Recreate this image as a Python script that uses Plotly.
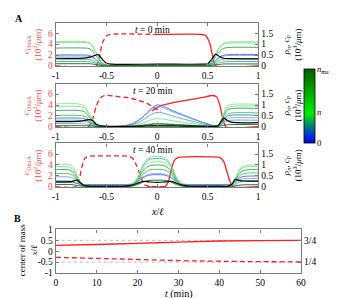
import plotly.graph_objects as go

W, H = 337, 298
FONT = "Liberation Serif"

# ---------------- Panel A data (rho_n, c_P in 10^3/um ; c_DnaA in 10^2/um) -------------
x_t0 = [-1, -0.72, -0.66, -0.62, -0.58, -0.54, -0.5, -0.45, 0, 0.45, 0.5, 0.54, 0.58, 0.62, 0.66, 0.72, 1]
rho_t0 = [
    [0.50, 0.50, 0.48, 0.35, 0.20, 0.06, 0.02, 0.01, 0.01, 0.01, 0.03, 0.10, 0.26, 0.42, 0.49, 0.52, 0.52],  # n=0 blue
    [0.45, 0.45, 0.43, 0.32, 0.18, 0.05, 0.02, 0.01, 0.01, 0.01, 0.02, 0.10, 0.24, 0.38, 0.46, 0.48, 0.48],
    [0.20, 0.20, 0.19, 0.14, 0.08, 0.03, 0.01, 0.01, 0.01, 0.01, 0.01, 0.04, 0.10, 0.16, 0.19, 0.20, 0.20],
    [1.07, 1.07, 1.02, 0.75, 0.43, 0.13, 0.03, 0.01, 0.01, 0.01, 0.05, 0.21, 0.53, 0.84, 1.00, 1.05, 1.05],
    [1.12, 1.12, 1.06, 0.78, 0.45, 0.13, 0.03, 0.01, 0.01, 0.01, 0.06, 0.22, 0.55, 0.88, 1.05, 1.10, 1.10],
    [0.30, 0.30, 0.29, 0.21, 0.12, 0.04, 0.01, 0.01, 0.01, 0.01, 0.02, 0.07, 0.17, 0.26, 0.31, 0.33, 0.33],
    [0.82, 0.82, 0.78, 0.57, 0.33, 0.10, 0.03, 0.01, 0.01, 0.01, 0.04, 0.17, 0.43, 0.68, 0.81, 0.85, 0.85],
    [0.10, 0.10, 0.10, 0.07, 0.04, 0.01, 0.01, 0.01, 0.01, 0.01, 0.01, 0.02, 0.05, 0.07, 0.09, 0.09, 0.09],  # n_max
]
cP_t0 = [0.35, 0.36, 0.40, 0.47, 0.52, 0.30, 0.12, 0.08, 0.08, 0.08, 0.10, 0.30, 0.54, 0.42, 0.35, 0.33, 0.32]
dnaA_dash_x_t0 = [-1, -0.6, -0.57, -0.54, -0.5, -0.46, 0]
dnaA_dash_y_t0 = [0, 0, 1.5, 4.2, 5.5, 5.8, 5.8]
dnaA_solid_x_t0 = [0, 0.44, 0.48, 0.52, 0.55, 0.58, 1]
dnaA_solid_y_t0 = [5.8, 5.8, 5.6, 4.2, 1.8, 0, 0]

x_t20 = [-1, -0.78, -0.72, -0.68, -0.64, -0.6, -0.55, -0.45, -0.35, -0.25, -0.15, -0.05, 0, 0.05,
         0.15, 0.25, 0.35, 0.45, 0.55, 0.6, 0.63, 0.66, 0.69, 0.73, 1]
rho_t20 = [
    [0.40, 0.40, 0.37, 0.26, 0.14, 0.05, 0.02, 0.01, 0.03, 0.13, 0.42, 0.87, 1.00, 0.97, 0.75, 0.56, 0.38, 0.21, 0.07, 0.04, 0.14, 0.33, 0.48, 0.53, 0.53],
    [0.15, 0.15, 0.14, 0.10, 0.06, 0.025, 0.01, 0.01, 0.03, 0.12, 0.39, 0.80, 0.92, 0.90, 0.69, 0.52, 0.35, 0.19, 0.06, 0.03, 0.11, 0.26, 0.37, 0.41, 0.41],
    [0.30, 0.30, 0.28, 0.20, 0.11, 0.04, 0.02, 0.01, 0.02, 0.09, 0.28, 0.58, 0.66, 0.64, 0.50, 0.37, 0.25, 0.14, 0.05, 0.03, 0.08, 0.19, 0.27, 0.30, 0.30],
    [0.93, 0.93, 0.86, 0.61, 0.33, 0.10, 0.03, 0.01, 0.02, 0.05, 0.16, 0.33, 0.37, 0.36, 0.28, 0.21, 0.15, 0.08, 0.03, 0.03, 0.25, 0.57, 0.84, 0.93, 0.94],
    [1.05, 1.05, 0.97, 0.69, 0.38, 0.115, 0.03, 0.01, 0.01, 0.02, 0.03, 0.06, 0.07, 0.07, 0.05, 0.04, 0.03, 0.02, 0.01, 0.03, 0.27, 0.63, 0.92, 1.02, 1.03],
    [0.52, 0.52, 0.49, 0.35, 0.19, 0.06, 0.02, 0.01, 0.01, 0.03, 0.07, 0.14, 0.16, 0.15, 0.12, 0.09, 0.07, 0.04, 0.02, 0.02, 0.17, 0.39, 0.57, 0.63, 0.64],
    [0.75, 0.75, 0.70, 0.50, 0.27, 0.085, 0.025, 0.01, 0.01, 0.01, 0.02, 0.04, 0.05, 0.05, 0.04, 0.03, 0.02, 0.02, 0.01, 0.03, 0.22, 0.51, 0.75, 0.83, 0.84],
    [0.05, 0.05, 0.05, 0.04, 0.03, 0.015, 0.01, 0.01, 0.01, 0.02, 0.06, 0.11, 0.13, 0.12, 0.10, 0.08, 0.05, 0.03, 0.02, 0.01, 0.035, 0.07, 0.09, 0.10, 0.10],
]
cP_t20 = [0.24, 0.25, 0.28, 0.33, 0.30, 0.12, 0.04, 0.02, 0.02, 0.02, 0.03, 0.04, 0.04, 0.04, 0.04, 0.03, 0.03, 0.02, 0.02, 0.05, 0.22, 0.40, 0.30, 0.21, 0.19]
dnaA_dash_x_t20 = [-1, -0.68, -0.64, -0.6, -0.56, -0.52, -0.4, -0.25, -0.1, 0, 0.04]
dnaA_dash_y_t20 = [0, 0, 1.2, 3.8, 5.3, 5.75, 5.6, 5.2, 4.3, 3.2, 2.9]
dnaA_solid_x_t20 = [-0.05, 0, 0.04, 0.15, 0.3, 0.45, 0.55, 0.59, 0.62, 0.65, 0.68, 1]
dnaA_solid_y_t20 = [2.9, 3.5, 3.9, 4.4, 4.9, 5.4, 5.75, 5.5, 4.0, 1.5, 0, 0]

x_t40 = [-1, -0.86, -0.82, -0.79, -0.76, -0.73, -0.69, -0.6, -0.45, -0.3, -0.24, -0.19, -0.14, -0.08, 0,
         0.08, 0.14, 0.19, 0.24, 0.3, 0.45, 0.6, 0.7, 0.74, 0.77, 0.8, 0.83, 0.88, 1]
rho_t40 = [
    [0.20, 0.20, 0.18, 0.15, 0.12, 0.10, 0.10, 0.10, 0.10, 0.10, 0.13, 0.23, 0.41, 0.53, 0.55, 0.53, 0.41, 0.23, 0.13, 0.10, 0.10, 0.10, 0.10, 0.12, 0.22, 0.35, 0.44, 0.48, 0.49],
    [0.45, 0.44, 0.37, 0.26, 0.16, 0.10, 0.08, 0.08, 0.08, 0.08, 0.12, 0.24, 0.44, 0.57, 0.60, 0.57, 0.44, 0.24, 0.12, 0.08, 0.08, 0.08, 0.08, 0.10, 0.18, 0.27, 0.34, 0.37, 0.38],
    [0.27, 0.26, 0.22, 0.15, 0.08, 0.04, 0.03, 0.03, 0.03, 0.03, 0.13, 0.41, 0.92, 1.24, 1.30, 1.24, 0.92, 0.41, 0.13, 0.03, 0.03, 0.03, 0.03, 0.05, 0.11, 0.18, 0.23, 0.26, 0.26],
    [0.92, 0.89, 0.74, 0.47, 0.21, 0.08, 0.03, 0.02, 0.02, 0.02, 0.13, 0.44, 0.99, 1.33, 1.40, 1.33, 0.99, 0.44, 0.13, 0.02, 0.02, 0.02, 0.02, 0.11, 0.34, 0.61, 0.82, 0.91, 0.93],
    [1.03, 1.00, 0.83, 0.52, 0.23, 0.08, 0.03, 0.01, 0.01, 0.01, 0.10, 0.36, 0.81, 1.09, 1.15, 1.09, 0.81, 0.36, 0.10, 0.01, 0.01, 0.01, 0.01, 0.11, 0.36, 0.65, 0.88, 0.98, 1.00],
    [0.60, 0.58, 0.48, 0.30, 0.14, 0.05, 0.02, 0.01, 0.01, 0.01, 0.07, 0.25, 0.57, 0.76, 0.80, 0.76, 0.57, 0.25, 0.07, 0.01, 0.01, 0.01, 0.01, 0.07, 0.23, 0.42, 0.56, 0.62, 0.63],
    [0.78, 0.76, 0.62, 0.39, 0.18, 0.06, 0.02, 0.01, 0.01, 0.01, 0.09, 0.31, 0.71, 0.95, 1.00, 0.95, 0.71, 0.31, 0.09, 0.01, 0.01, 0.01, 0.01, 0.09, 0.28, 0.51, 0.69, 0.77, 0.78],
    [0.10, 0.10, 0.08, 0.05, 0.03, 0.02, 0.01, 0.01, 0.01, 0.01, 0.03, 0.10, 0.21, 0.29, 0.30, 0.29, 0.21, 0.10, 0.03, 0.01, 0.01, 0.01, 0.01, 0.02, 0.04, 0.06, 0.08, 0.09, 0.09],
]
cP_t40 = [0.22, 0.23, 0.27, 0.30, 0.20, 0.08, 0.04, 0.03, 0.03, 0.04, 0.08, 0.16, 0.24, 0.22, 0.20, 0.22, 0.24, 0.16, 0.08, 0.04, 0.03, 0.03, 0.03, 0.12, 0.33, 0.30, 0.27, 0.26, 0.26]
dnaA_dash_x_t40 = [-1, -0.8, -0.77, -0.74, -0.71, -0.67, -0.4, -0.28, -0.24, -0.2, -0.16, -0.12, 0.1]
dnaA_dash_y_t40 = [0, 0, 1.2, 3.8, 5.3, 5.6, 5.65, 5.6, 5.2, 3.8, 1.8, 0.3, 0]
dnaA_solid_x_t40 = [-0.1, 0.08, 0.11, 0.14, 0.17, 0.21, 0.3, 0.5, 0.62, 0.66, 0.69, 0.72, 0.75, 1]
dnaA_solid_y_t40 = [0, 0, 0.8, 3.0, 4.8, 5.4, 5.5, 5.5, 5.4, 4.6, 2.8, 1.0, 0, 0]

time_labels = ["0", "20", "40"]

# ---------------- Panel B data -------------
t_min = [0, 10, 20, 30, 40, 50, 60]
com_solid = [0.27, 0.31, 0.36, 0.42, 0.47, 0.49, 0.50]
com_dashed = [-0.28, -0.33, -0.38, -0.43, -0.46, -0.48, -0.49]
quarter_lines = [0.5, -0.5]
quarter_labels = ["3/4", "1/4"]

x_ticks = [-1, -0.5, 0, 0.5, 1]
x_ticktext = ["-1", "-0.5", "0", "0.5", "1"]
left_ticks = [0, 2, 4, 6]
right_ticks = [0, 0.5, 1, 1.5]
right_ticktext = ["0", "0.5", "1", "1.5"]
t_ticks = [0, 10, 20, 30, 40, 50, 60]
com_ticks = [-1, -0.5, 0, 0.5, 1]
com_ticktext = ["-1", "-0.5", "0", "0.5", "1"]
cbar_tickvals = [0, 0.42, 1]
cbar_ticktext = ["0", "<i>n</i>", "<i>n</i><sub>max</sub>"]

# ---------------- styling -------------
rho_colors = ["rgba(60,100,230,0.85)", "rgba(120,150,235,0.85)", "rgba(60,170,160,0.85)",
              "rgba(120,215,150,0.85)", "rgba(120,235,110,0.85)", "rgba(50,200,70,0.85)",
              "rgba(35,160,75,0.85)", "rgba(15,105,25,0.9)"]
RED = "rgb(255,30,30)"
RED_TXT = "rgb(255,70,70)"
AX = "#7a7a7a"

def pxx(p):
    return p / W

def pxy(p):
    return 1 - p / H

fig = go.Figure()

panels = [
    (x_t0, rho_t0, cP_t0, dnaA_dash_x_t0, dnaA_dash_y_t0, dnaA_solid_x_t0, dnaA_solid_y_t0, 10, 55),
    (x_t20, rho_t20, cP_t20, dnaA_dash_x_t20, dnaA_dash_y_t20, dnaA_solid_x_t20, dnaA_solid_y_t20, 73, 118),
    (x_t40, rho_t40, cP_t40, dnaA_dash_x_t40, dnaA_dash_y_t40, dnaA_solid_x_t40, dnaA_solid_y_t40, 135, 180),
]

base_font = dict(family=FONT, size=9.5, color="black")
layout = dict(width=W, height=H, margin=dict(l=0, r=0, t=0, b=0), paper_bgcolor="white",
              plot_bgcolor="white", showlegend=False, font=base_font)
annotations = []

for i, (xs, rho, cp, dx, dy, sx, sy, top, bot) in enumerate(panels):
    xa = "x" if i == 0 else f"x{i+1}"
    yl_n = 2 * i + 1
    yr_n = 2 * i + 2
    yl = "y" if yl_n == 1 else f"y{yl_n}"
    yr = f"y{yr_n}"
    for k, ys in enumerate(rho):
        fig.add_trace(go.Scatter(x=xs, y=ys, mode="lines", xaxis=xa, yaxis=yr,
                                 line=dict(color=rho_colors[k], width=1, shape="spline", smoothing=0.9),
                                 hoverinfo="skip"))
    fig.add_trace(go.Scatter(x=xs, y=cp, mode="lines", xaxis=xa, yaxis=yr,
                             line=dict(color="black", width=1.2, shape="spline", smoothing=0.8),
                             hoverinfo="skip"))
    fig.add_trace(go.Scatter(x=dx, y=dy, mode="lines", xaxis=xa, yaxis=yl,
                             line=dict(color=RED, width=1.3, dash="5px,3px", shape="spline", smoothing=0.6),
                             hoverinfo="skip"))
    fig.add_trace(go.Scatter(x=sx, y=sy, mode="lines", xaxis=xa, yaxis=yl,
                             line=dict(color=RED, width=1.3, shape="spline", smoothing=0.6),
                             hoverinfo="skip"))

    dom_y = [pxy(bot), pxy(top)]
    xkey = "xaxis" if i == 0 else f"xaxis{i+1}"
    ylkey = "yaxis" if yl_n == 1 else f"yaxis{yl_n}"
    yrkey = f"yaxis{yr_n}"
    layout[xkey] = dict(domain=[pxx(45), pxx(253)], anchor=yl, range=[-1, 1], tickvals=x_ticks,
                        ticktext=x_ticktext, ticks="inside", ticklen=3, tickcolor=AX, showline=True,
                        linecolor=AX, linewidth=1.3, mirror="ticks", showgrid=False, zeroline=False,
                        tickfont=dict(family=FONT, size=9.5, color="black"))
    layout[ylkey] = dict(domain=dom_y, anchor=xa, range=[-0.05, 7.95], tickvals=left_ticks,
                         ticks="inside", ticklen=3, tickcolor=AX, showline=True, linecolor=AX,
                         linewidth=1.3, showgrid=False, zeroline=False,
                         tickfont=dict(family=FONT, size=9.5, color=RED_TXT))
    layout[yrkey] = dict(domain=dom_y, anchor=xa, overlaying=yl, side="right", range=[-0.0125, 1.9875],
                         tickvals=right_ticks, ticktext=right_ticktext, ticks="inside", ticklen=3,
                         tickcolor=AX, showline=True, linecolor=AX, linewidth=1.3, showgrid=False,
                         zeroline=False, tickfont=dict(family=FONT, size=9.5, color="black"))
    mid = (top + bot) / 2
    annotations.append(dict(x=pxx(21), y=pxy(mid), xref="paper", yref="paper", textangle=-90,
                            text="<i>c</i><sub>DnaA</sub><br>(10<sup>2</sup>/<i>μ</i>m)", showarrow=False,
                            font=dict(family=FONT, size=9, color=RED_TXT), xanchor="center", yanchor="middle"))
    annotations.append(dict(x=pxx(288), y=pxy(mid), xref="paper", yref="paper", textangle=-90,
                            text="<i>ρ</i><sub><i>n</i></sub>, <i>c</i><sub>P</sub><br>(10<sup>3</sup>/<i>μ</i>m)",
                            showarrow=False, font=dict(family=FONT, size=9, color="black"),
                            xanchor="center", yanchor="middle"))
    annotations.append(dict(x=0.48, y=0.84, xref=f"{xa} domain", yref=f"{yl} domain",
                            text=f"<i>t</i> = {time_labels[i]} min", showarrow=False,
                            font=dict(family=FONT, size=9.5, color="black"), xanchor="center", yanchor="middle"))

# colorbar (dummy trace drawn out of range); labels as annotations so they are not clipped
cb_top, cb_bot = 58, 135
cb_left, cb_w = 300, 11
cscale = [[0, "rgb(0,0,230)"], [0.12, "rgb(0,60,200)"], [0.4, "rgb(0,235,0)"], [1, "rgb(0,95,0)"]]
fig.add_trace(go.Scatter(x=[0], y=[-50], mode="markers", xaxis="x", yaxis="y",
                         marker=dict(color=[0.5], colorscale=cscale, cmin=0, cmax=1, showscale=True,
                                     colorbar=dict(x=pxx(cb_left), xanchor="left", y=pxy((cb_top + cb_bot) / 2),
                                                   yanchor="middle", len=(cb_bot - cb_top) / H,
                                                   lenmode="fraction", thickness=cb_w,
                                                   thicknessmode="pixels", outlinewidth=0.8,
                                                   outlinecolor="black", xpad=0, ypad=0,
                                                   showticklabels=False, ticks="")),
                         hoverinfo="skip"))
for v, txt in zip(cbar_tickvals, cbar_ticktext):
    annotations.append(dict(x=pxx(cb_left + cb_w + 1), y=pxy(cb_bot - v * (cb_bot - cb_top)), xref="paper",
                            yref="paper", text=txt, showarrow=False,
                            font=dict(family=FONT, size=8.5, color="black"),
                            xanchor="left", yanchor="middle", borderpad=0, align="left"))

# Panel B
fig.add_trace(go.Scatter(x=t_min, y=com_solid, mode="lines", xaxis="x4", yaxis="y7",
                         line=dict(color=RED, width=1.3, shape="spline"), hoverinfo="skip"))
fig.add_trace(go.Scatter(x=t_min, y=com_dashed, mode="lines", xaxis="x4", yaxis="y7",
                         line=dict(color=RED, width=1.3, dash="5px,3px", shape="spline"), hoverinfo="skip"))
fig.add_trace(go.Scatter(x=[None], y=[None], mode="lines", xaxis="x4", yaxis="y8", hoverinfo="skip"))

dom_b = [pxy(269), pxy(224)]
layout["xaxis4"] = dict(domain=[pxx(45), pxx(297)], anchor="y7", range=[0, 60], tickvals=t_ticks,
                        ticks="inside", ticklen=3, tickcolor=AX, showline=True, linecolor=AX, linewidth=1.3,
                        mirror="ticks", showgrid=False, zeroline=False,
                        tickfont=dict(family=FONT, size=9.5, color="black"))
layout["yaxis7"] = dict(domain=dom_b, anchor="x4", range=[-1, 1], tickvals=com_ticks, ticktext=com_ticktext,
                        ticks="inside", ticklen=3, tickcolor=AX, showline=True, linecolor=AX, linewidth=1.3,
                        showgrid=False, zeroline=False, tickfont=dict(family=FONT, size=9.5, color="black"))
layout["yaxis8"] = dict(domain=dom_b, anchor="x4", overlaying="y7", side="right", range=[-1, 1],
                        tickvals=quarter_lines, ticktext=quarter_labels, ticks="inside", ticklen=3,
                        tickcolor=AX, showline=True, linecolor=AX, linewidth=1.3, showgrid=False,
                        zeroline=False, tickfont=dict(family=FONT, size=9.5, color="black"))
shapes = []
for q in quarter_lines:
    shapes.append(dict(type="line", xref="x4 domain", yref="y7", x0=0, x1=1, y0=q, y1=q,
                       line=dict(color="#aaaaaa", width=0.8, dash="dot"), layer="below"))

annotations += [
    dict(x=pxx(149), y=pxy(205), xref="paper", yref="paper", text="<i>x</i>/<i>ℓ</i>", showarrow=False,
         font=dict(family=FONT, size=10), xanchor="center", yanchor="middle"),
    dict(x=pxx(172), y=pxy(291), xref="paper", yref="paper", text="<i>t</i> (min)", showarrow=False,
         font=dict(family=FONT, size=10), xanchor="center", yanchor="middle"),
    dict(x=pxx(16), y=pxy(246), xref="paper", yref="paper", textangle=-90,
         text="center of mass<br><i>x</i>/<i>ℓ</i>", showarrow=False,
         font=dict(family=FONT, size=9), xanchor="center", yanchor="middle"),
    dict(x=pxx(7), y=pxy(6), xref="paper", yref="paper", text="<b>A</b>", showarrow=False,
         font=dict(family=FONT, size=10), xanchor="center", yanchor="middle"),
    dict(x=pxx(6), y=pxy(213), xref="paper", yref="paper", text="<b>B</b>", showarrow=False,
         font=dict(family=FONT, size=10), xanchor="center", yanchor="middle"),
]
layout["annotations"] = annotations
layout["shapes"] = shapes
fig.update_layout(**layout)
fig.write_html("out.html")
